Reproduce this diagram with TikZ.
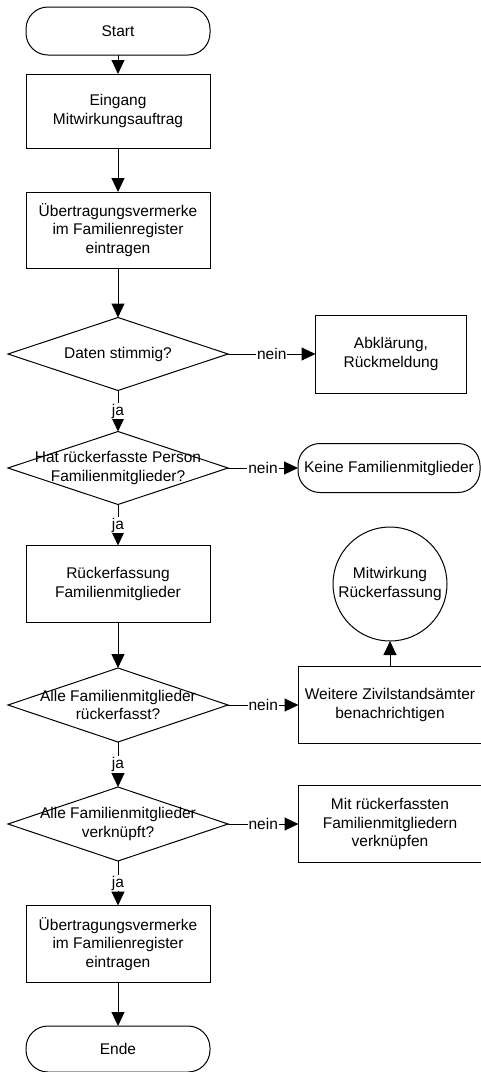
\documentclass[tikz,border=0pt]{standalone}
\usepackage{fontspec}
\setmainfont{Liberation Sans}
\usepackage{tikz}
\usetikzlibrary{shapes.geometric,arrows.meta}
\definecolor{ink}{HTML}{000000}
\definecolor{paper}{HTML}{FFFFFF}
\newcommand{\flowfont}{\fontsize{15.5pt}{18.7pt}\selectfont}
\tikzset{
  base/.style={draw=ink, line width=1pt, fill=paper, text=ink, align=center, font=\flowfont, inner sep=0pt, outer sep=0pt},
  term/.style={base, rectangle, rounded corners=22pt, minimum width=184pt, minimum height=48pt},
  proc/.style={base, rectangle, minimum width=184pt, minimum height=76pt},
  dec/.style={base, diamond, minimum width=220pt, minimum height=73pt},
  conn/.style={base, circle, minimum size=114pt},
  flow/.style={draw=ink, line width=1pt, -{Triangle[length=14pt,width=13pt]}},
  lab/.style={text=ink, font=\flowfont, fill=paper, inner sep=1pt},
  declab/.style={text=ink, font=\flowfont, align=center, inner sep=0pt},
}

\begin{document}
\begin{tikzpicture}[x=1pt,y=-1pt]
  \useasboundingbox (0,0) rectangle (481,1072);

  % main column
  \node[term] (start) at (118,31) {Start};
  \node[proc,minimum height=74pt] (eing) at (118,111) {Eingang\\Mitwirkungsauftrag};
  \node[proc] (uebA) at (118,230) {Übertragungsvermerke\\im Familienregister\\eintragen};
  \node[dec,label={[declab]center:Daten stimmig?}] (d1) at (118,354) {};
  \node[dec,label={[declab]center:{Hat rückerfasste Person\\Familienmitglieder?}}] (d2) at (118,468) {};
  \node[proc,minimum height=77pt] (rueck) at (118,584) {Rückerfassung\\Familienmitglieder};
  \node[dec,minimum height=74pt,label={[declab]center:{Alle Familienmitglieder\\rückerfasst?}}] (d3) at (118,705) {};
  \node[dec,minimum height=74pt,label={[declab]center:{Alle Familienmitglieder\\verknüpft?}}] (d4) at (118,824) {};
  \node[proc,minimum height=77pt] (uebB) at (118,944) {Übertragungsvermerke\\im Familienregister\\eintragen};
  \node[term,minimum height=46pt] (ende) at (118,1049) {Ende};

  % side column
  \node[proc,minimum width=151pt,minimum height=78pt] (abkl) at (391,354) {Abklärung,\\Rückmeldung};
  \node[term,minimum width=182pt,minimum height=49pt] (keine) at (389,468) {Keine Familienmitglieder};
  \node[conn] (mitw) at (390,584) {Mitwirkung\\Rückerfassung};
  \node[proc,minimum width=183pt,minimum height=77pt] (weit) at (390,705) {Weitere Zivilstandsämter\\benachrichtigen};
  \node[proc,minimum width=183pt,minimum height=77pt] (verk) at (390,824) {Mit rückerfassten\\Familienmitgliedern\\verknüpfen};

  \draw[flow] (start) -- (eing);
  \draw[flow] (eing) -- (uebA);
  \draw[flow] (uebA) -- (d1);
  \draw[flow] (d1) -- node[lab]{ja} (d2);
  \draw[flow] (d1) -- node[lab]{nein} (abkl);
  \draw[flow] (d2) -- node[lab]{nein} (keine);
  \draw[flow] (d2) -- node[lab]{ja} (rueck);
  \draw[flow] (rueck) -- (d3);
  \draw[flow] (d3) -- node[lab]{nein} (weit);
  \draw[flow] (weit) -- (mitw);
  \draw[flow] (d3) -- node[lab]{ja} (d4);
  \draw[flow] (d4) -- node[lab]{nein} (verk);
  \draw[flow] (d4) -- node[lab]{ja} (uebB);
  \draw[flow] (uebB) -- (ende);
\end{tikzpicture}
\end{document}
